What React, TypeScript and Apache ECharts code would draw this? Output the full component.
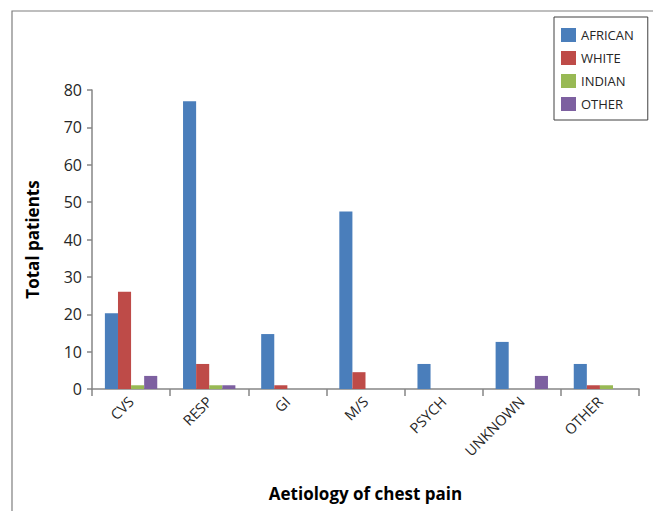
import React, { useEffect, useRef } from "react";
import * as echarts from "echarts";

const categories = ["CVS", "RESP", "GI", "M/S", "PSYCH", "UNKNOWN", "OTHER"];
const african = [20.3, 77, 14.7, 47.5, 6.7, 12.6, 6.7];
const white = [26, 6.7, 1, 4.5, 0, 0, 1];
const indian = [1, 1, 0, 0, 0, 0, 1];
const other = [3.5, 1, 0, 0, 0, 3.5, 0];
const seriesNames = ["AFRICAN", "WHITE", "INDIAN", "OTHER"];
const seriesColors = ["#4A7EBB", "#BE4B48", "#98B954", "#7D60A0"];

const FONT = "'Open Sans', sans-serif";

export default function App() {
  const ref = useRef<HTMLDivElement>(null);
  useEffect(() => {
    if (!ref.current) return;
    const chart = echarts.init(ref.current, null, { renderer: "svg" });
    const data = [african, white, indian, other];
    chart.setOption({
      animation: false,
      backgroundColor: "#ffffff",
      textStyle: { fontFamily: FONT },
      graphic: [
        {
          type: "polyline",
          shape: { points: [[12, 520], [12, 11], [700, 11]] },
          style: { stroke: "#7f7f7f", lineWidth: 1.2, fill: "none" },
          silent: true,
        },
      ],
      legend: {
        orient: "vertical",
        left: 554,
        top: 17,
        padding: [11, 14, 9, 7],
        itemWidth: 15,
        itemHeight: 14,
        itemGap: 9,
        borderColor: "#404040",
        borderWidth: 1,
        icon: "rect",
        data: seriesNames,
        textStyle: { fontSize: 13, color: "#262626", fontFamily: FONT },
      },
      grid: { left: 92, top: 90, right: 14, bottom: 122, containLabel: false },
      xAxis: {
        type: "category",
        data: categories,
        name: "Aetiology of chest pain",
        nameLocation: "middle",
        nameGap: 96,
        nameTextStyle: { fontSize: 17, fontWeight: "bold", color: "#000", fontFamily: FONT },
        axisLine: { lineStyle: { color: "#868686", width: 1.5 } },
        axisTick: { show: true, alignWithLabel: false, length: 7, lineStyle: { color: "#868686", width: 1.5 } },
        axisLabel: { rotate: 45, fontSize: 14.5, color: "#262626", margin: 10, interval: 0, fontFamily: FONT },
      },
      yAxis: {
        type: "value",
        min: 0,
        max: 80,
        interval: 10,
        name: "Total patients",
        nameLocation: "middle",
        nameGap: 51,
        nameTextStyle: { fontSize: 17, fontWeight: "bold", color: "#000", fontFamily: FONT },
        splitLine: { show: false },
        axisLine: { show: true, lineStyle: { color: "#868686", width: 1.5 } },
        axisTick: { show: true, length: 5, lineStyle: { color: "#868686", width: 1.5 } },
        axisLabel: { fontSize: 16, color: "#262626", margin: 10, fontFamily: FONT },
      },
      series: seriesNames.map((name, i) => ({
        name,
        type: "bar",
        data: data[i],
        barGap: "0%",
        barCategoryGap: "33%",
        itemStyle: { color: seriesColors[i] },
      })),
    });
    return () => chart.dispose();
  }, []);
  return <div ref={ref} style={{ width: 653, height: 511, position: "absolute", left: 0, top: 0 }} />;
}
